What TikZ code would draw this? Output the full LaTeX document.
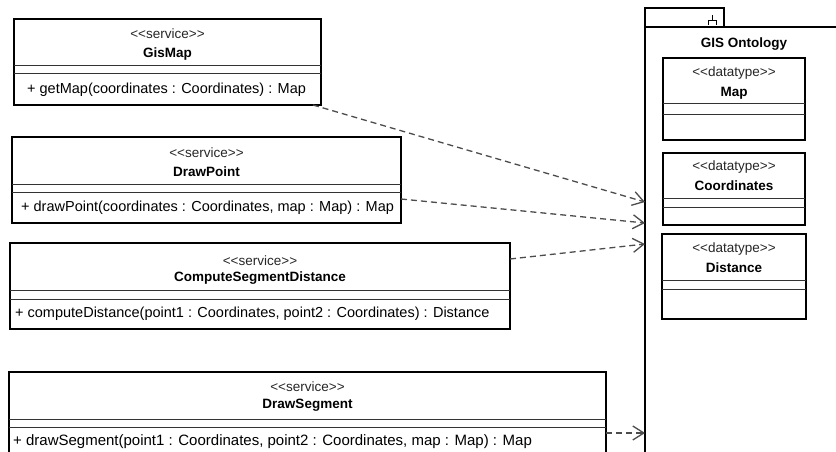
\documentclass[tikz,border=0pt]{standalone}
\usepackage{fontspec}
\setmainfont{Liberation Sans}
\usetikzlibrary{arrows.meta}

\tikzset{
  classbox/.style={draw=black,line width=1.8pt,rectangle,anchor=north west,
    inner sep=0pt,outer sep=0pt},
  stereo/.style={font=\fontsize{13.5}{15}\selectfont,inner sep=0pt,text=black!85},
  classname/.style={font=\fontsize{13.5}{16}\selectfont\bfseries,inner sep=0pt},
  opline/.style={font=\fontsize{14.5}{17}\selectfont,inner sep=0pt,anchor=west},
  sepline/.style={draw=black!80,line width=1pt},
  depends/.style={draw=black!70,line width=1.3pt,dash pattern=on 6pt off 4pt,
    -{Straight Barb[length=11pt,width=14pt,line width=1.3pt]}},
}
% stereotype text, kept apart so << and >> stay as they are
\newcommand{\stype}[1]{<\kern0pt<#1>\kern0pt>}

\begin{document}
\begin{tikzpicture}[x=1pt,y=-1pt]
  \useasboundingbox (0,0) rectangle (836,452);
  \clip (0,0) rectangle (836,452);

  % services
  \node[classbox,minimum width=307pt,minimum height=86pt] (gismap) at (14,19) {};
  \node[classbox,minimum width=389pt,minimum height=86pt] (drawpoint) at (12,137) {};
  \node[classbox,minimum width=500pt,minimum height=86pt] (compute) at (10,243) {};
  \node[classbox,minimum width=597pt,minimum height=86pt] (drawseg) at (9,372) {};

  \node[stereo] (gismap-st) at ([yshift=-15pt]gismap.north) {\stype{service}};
  \node[classname] (gismap-nm) at ([yshift=-35pt]gismap.north) {GisMap};
  \node[opline] (gismap-op) at ([xshift=13pt,yshift=-71pt]gismap.north west)
    {+ getMap(coordinates : Coordinates) : Map};

  \node[stereo] (drawpoint-st) at ([yshift=-16pt]drawpoint.north) {\stype{service}};
  \node[classname] (drawpoint-nm) at ([yshift=-35pt]drawpoint.north) {DrawPoint};
  \node[opline] (drawpoint-op) at ([xshift=9pt,yshift=-71pt]drawpoint.north west)
    {+ drawPoint(coordinates : Coordinates, map : Map) : Map};

  \node[stereo] (compute-st) at ([yshift=-18pt]compute.north) {\stype{service}};
  \node[classname] (compute-nm) at ([yshift=-35pt]compute.north) {ComputeSegmentDistance};
  \node[opline] (compute-op) at ([xshift=5pt,yshift=-71pt]compute.north west)
    {+ computeDistance(point1 : Coordinates, point2 : Coordinates) : Distance};

  \node[stereo] (drawseg-st) at ([yshift=-15pt]drawseg.north) {\stype{service}};
  \node[classname] (drawseg-nm) at ([yshift=-33pt]drawseg.north) {DrawSegment};
  \node[opline,font=\fontsize{15}{17}\selectfont] (drawseg-op)
    at ([xshift=4pt,yshift=-70pt]drawseg.north west)
    {+ drawSegment(point1 : Coordinates, point2 : Coordinates, map : Map) : Map};

  % package with its tab
  \node[classbox,anchor=south west,minimum width=79pt,minimum height=19pt] (tab) at (645,27) {};
  \node[classbox,minimum width=240pt,minimum height=460pt] (ont) at (645,27) {};
  \draw[line width=0.9pt] (712.5,15) -- (712.5,20) (708.5,25) -- (708.5,20) -- (716.5,20) -- (716.5,25);
  \node[classname] (ont-nm) at (744,44) {GIS Ontology};

  % datatypes
  \node[classbox,minimum width=142pt,minimum height=82pt] (map) at (663,58) {};
  \node[classbox,minimum width=142pt,minimum height=72pt] (coords) at (663,153) {};
  \node[classbox,minimum width=144pt,minimum height=85pt] (dist) at (662,234) {};

  \node[stereo] (map-st) at ([yshift=-15pt]map.north) {\stype{datatype}};
  \node[classname] (map-nm) at ([yshift=-35pt]map.north) {Map};
  \node[stereo] (coords-st) at ([yshift=-14pt]coords.north) {\stype{datatype}};
  \node[classname] (coords-nm) at ([yshift=-33pt]coords.north) {Coordinates};
  \node[stereo] (dist-st) at ([yshift=-15pt]dist.north) {\stype{datatype}};
  \node[classname] (dist-nm) at ([yshift=-34pt]dist.north) {Distance};

  % compartment lines
  \foreach \b/\d in {gismap/47,gismap/55,drawpoint/47,drawpoint/55,compute/47,compute/56,
                     drawseg/47,drawseg/55,map/46,map/56,coords/45,coords/54,dist/46,dist/55}
    \draw[sepline] ([yshift=-\d pt]\b.north west) -- ([yshift=-\d pt]\b.north east);

  % dependencies
  \draw[depends] ([xshift=-8pt]gismap.south east) -- ([yshift=-175pt]ont.north west);
  \draw[depends] ([yshift=-19pt]drawpoint.east) -- ([yshift=-196pt]ont.north west);
  \draw[depends] ([yshift=27pt]compute.east) -- ([yshift=-217pt]ont.north west);
  \draw[depends] ([yshift=-18pt]drawseg.east) -- ([yshift=-406pt]ont.north west);
\end{tikzpicture}
\end{document}
